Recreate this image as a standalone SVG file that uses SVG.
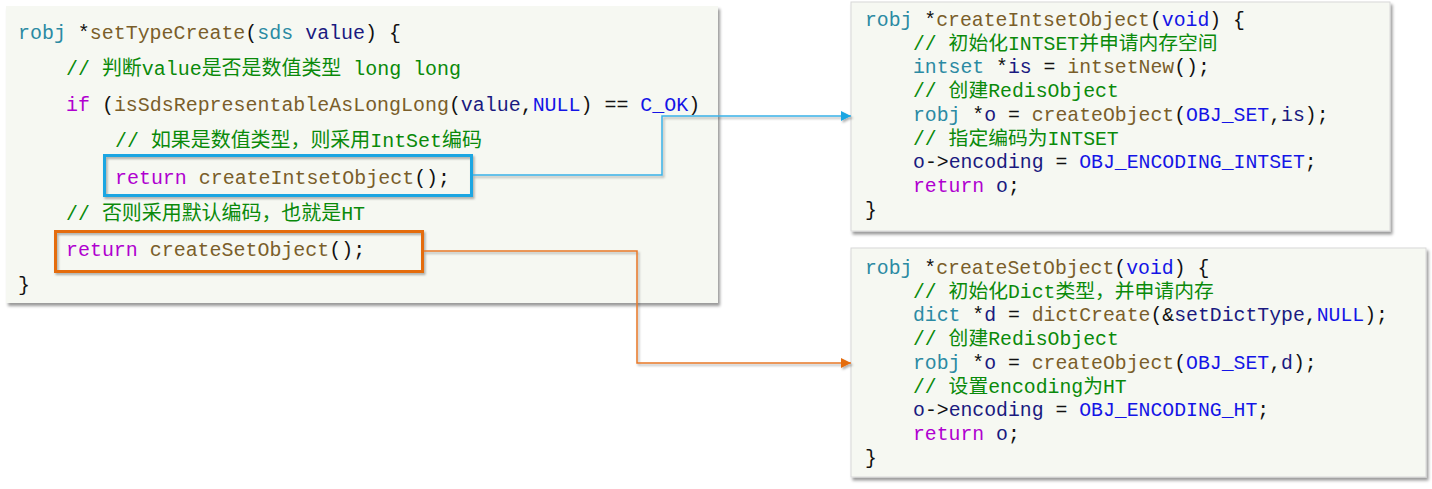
<svg xmlns="http://www.w3.org/2000/svg" width="1432" height="489" viewBox="0 0 1432 489">
<style>
text{font-family:'Liberation Mono','Noto Sans CJK SC',monospace;font-size:19.8px;white-space:pre;fill:#111}
#setTypeCreate text{font-size:19.95px}
.box{fill:#F6F8F2}
.rbox{fill:#F6F8F2;stroke:#D8D8D8;stroke-width:1}
.t{fill:#2B8AA3}
.f{fill:#7A5E2A}
.v{fill:#1A1A80}
.k{fill:#1414E6}
.c{fill:#0A8A0A}
.p{fill:#B000D0}
.hl-blue{fill:none;stroke:#1AA6E2;stroke-width:3}
.hl-orange{fill:none;stroke:#E46C0A;stroke-width:3}
.con-blue{fill:none;stroke:#38B2E8;stroke-width:1.5}
.con-orange{fill:none;stroke:#E8782A;stroke-width:1.5}
</style>
<defs>
<filter id="sh" x="-5%" y="-5%" width="112%" height="120%">
<feDropShadow dx="2" dy="3" stdDeviation="1.4" flood-color="#000" flood-opacity="0.4"/>
</filter>
<filter id="sh2" x="-5%" y="-20%" width="112%" height="150%">
<feDropShadow dx="1.5" dy="2" stdDeviation="1" flood-color="#000" flood-opacity="0.3"/>
</filter>
<marker id="ab" viewBox="0 0 10 10" refX="10" refY="5" markerWidth="10" markerHeight="10" markerUnits="userSpaceOnUse" orient="auto">
<path d="M0,0 L10,5 L0,10 z" fill="#1AA6E2"/>
</marker>
<marker id="ao" viewBox="0 0 10 10" refX="10" refY="5" markerWidth="10" markerHeight="10" markerUnits="userSpaceOnUse" orient="auto">
<path d="M0,0 L10,5 L0,10 z" fill="#E46C0A"/>
</marker>
</defs>
<rect width="1432" height="489" fill="#FFFFFF"/>

<g id="setTypeCreate">
<rect class="box" x="6" y="6" width="712" height="297" filter="url(#sh)"/>
<text x="18" y="39"><tspan class="t">robj</tspan> *<tspan class="f">setTypeCreate</tspan>(<tspan class="t">sds</tspan> <tspan class="v">value</tspan>) {</text>
<text x="66" y="75" class="c" textLength="395" lengthAdjust="spacing">// 判断value是否是数值类型 long long</text>
<text x="66" y="111"><tspan class="p">if</tspan> (<tspan class="f">isSdsRepresentableAsLongLong</tspan>(<tspan class="v">value</tspan>,<tspan class="k">NULL</tspan>) == <tspan class="k">C_OK</tspan>)</text>
<text x="115" y="147" class="c">// 如果是数值类型，则采用IntSet编码</text>
<text x="115" y="184"><tspan class="p">return</tspan> <tspan class="f">createIntsetObject</tspan>();</text>
<text x="66" y="220" class="c">// 否则采用默认编码，也就是HT</text>
<text x="66" y="256"><tspan class="p">return</tspan> <tspan class="f">createSetObject</tspan>();</text>
<text x="18" y="291">}</text>
</g>

<g id="hl-intset">
<rect class="hl-blue" x="104.5" y="155.5" width="367" height="40" filter="url(#sh2)"/>
</g>
<g id="hl-set">
<rect class="hl-orange" x="55.5" y="231.5" width="367" height="40" filter="url(#sh2)"/>
</g>

<g id="createIntsetObject">
<rect class="rbox" x="851" y="2" width="539" height="229" filter="url(#sh)"/>
<text x="865" y="26"><tspan class="t">robj</tspan> *<tspan class="f">createIntsetObject</tspan>(<tspan class="k">void</tspan>) {</text>
<text x="913" y="49.7" class="c">// 初始化INTSET并申请内存空间</text>
<text x="913" y="73.4"><tspan class="t">intset</tspan> *<tspan class="v">is</tspan> = <tspan class="f">intsetNew</tspan>();</text>
<text x="913" y="97.1" class="c">// 创建RedisObject</text>
<text x="913" y="120.8"><tspan class="t">robj</tspan> *<tspan class="v">o</tspan> = <tspan class="f">createObject</tspan>(<tspan class="k">OBJ_SET</tspan>,<tspan class="v">is</tspan>);</text>
<text x="913" y="144.5" class="c">// 指定编码为INTSET</text>
<text x="913" y="168.2"><tspan class="v">o</tspan>-&gt;<tspan class="v">encoding</tspan> = <tspan class="k">OBJ_ENCODING_INTSET</tspan>;</text>
<text x="913" y="191.9"><tspan class="p">return</tspan> <tspan class="v">o</tspan>;</text>
<text x="865" y="215.6">}</text>
</g>

<g id="createSetObject">
<rect class="rbox" x="851" y="248" width="575" height="229" filter="url(#sh)"/>
<text x="865" y="274"><tspan class="t">robj</tspan> *<tspan class="f">createSetObject</tspan>(<tspan class="k">void</tspan>) {</text>
<text x="913" y="297.7" class="c">// 初始化Dict类型，并申请内存</text>
<text x="913" y="321.4"><tspan class="t">dict</tspan> *<tspan class="v">d</tspan> = <tspan class="f">dictCreate</tspan>(&amp;<tspan class="v">setDictType</tspan>,<tspan class="k">NULL</tspan>);</text>
<text x="913" y="345.1" class="c">// 创建RedisObject</text>
<text x="913" y="368.8"><tspan class="t">robj</tspan> *<tspan class="v">o</tspan> = <tspan class="f">createObject</tspan>(<tspan class="k">OBJ_SET</tspan>,<tspan class="v">d</tspan>);</text>
<text x="913" y="392.5" class="c">// 设置encoding为HT</text>
<text x="913" y="416.2"><tspan class="v">o</tspan>-&gt;<tspan class="v">encoding</tspan> = <tspan class="k">OBJ_ENCODING_HT</tspan>;</text>
<text x="913" y="439.9"><tspan class="p">return</tspan> <tspan class="v">o</tspan>;</text>
<text x="865" y="463.6">}</text>
</g>

<g id="connectors">
<path class="con-blue" d="M473,175 H662 V116 H851" marker-end="url(#ab)" filter="url(#sh2)"/>
<path class="con-orange" d="M424,251 H637 V363 H851" marker-end="url(#ao)" filter="url(#sh2)"/>
</g>
</svg>
